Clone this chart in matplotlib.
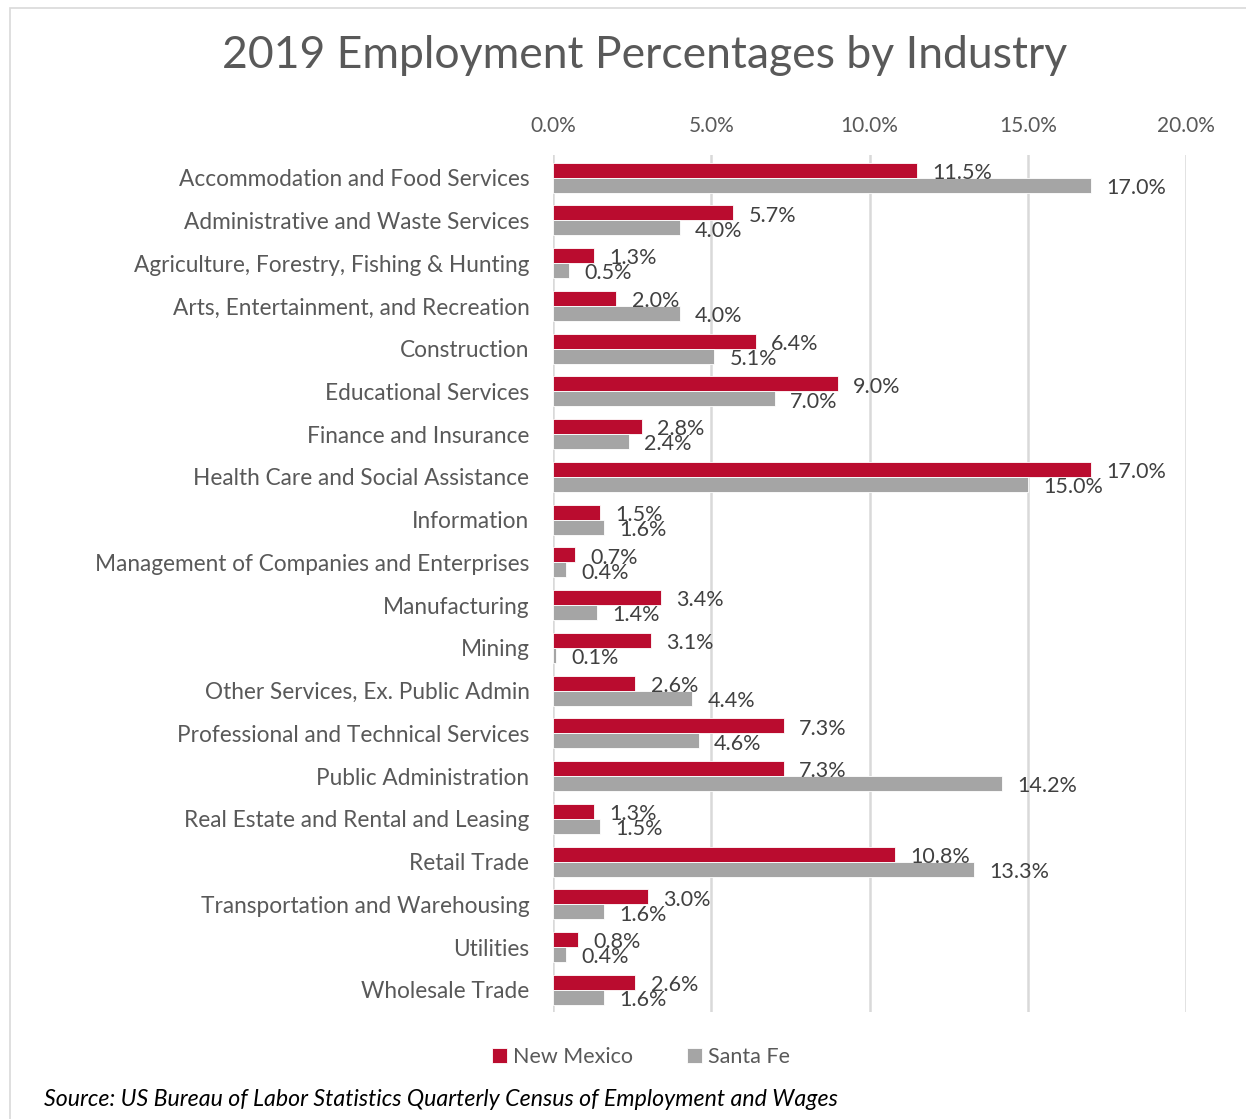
import matplotlib.pyplot as plt
from matplotlib.patches import Rectangle

plt.rcParams['font.family'] = ['Lato', 'DejaVu Sans']

industries = [
    "Accommodation and Food Services",
    "Administrative and Waste Services",
    "Agriculture, Forestry, Fishing & Hunting",
    "Arts, Entertainment, and Recreation",
    "Construction",
    "Educational Services",
    "Finance and Insurance",
    "Health Care and Social Assistance",
    "Information",
    "Management of Companies and Enterprises",
    "Manufacturing",
    "Mining",
    "Other Services, Ex. Public Admin",
    "Professional and Technical Services",
    "Public Administration",
    "Real Estate and Rental and Leasing",
    "Retail Trade",
    "Transportation and Warehousing",
    "Utilities",
    "Wholesale Trade",
]
new_mexico = [11.5, 5.7, 1.3, 2.0, 6.4, 9.0, 2.8, 17.0, 1.5, 0.7,
              3.4, 3.1, 2.6, 7.3, 7.3, 1.3, 10.8, 3.0, 0.8, 2.6]
santa_fe = [17.0, 4.0, 0.5, 4.0, 5.1, 7.0, 2.4, 15.0, 1.6, 0.4,
            1.4, 0.1, 4.4, 4.6, 14.2, 1.5, 13.3, 1.6, 0.4, 1.6]
x_ticks = [0, 5, 10, 15, 20]

red = '#BA0C2F'
grey = '#A5A5A5'
text_grey = '#595959'
label_col = '#404040'

fig = plt.figure(figsize=(12.46, 11.19), dpi=100)
ax = fig.add_axes([553 / 1246, 1 - 1012 / 1119, 633 / 1246, 857 / 1119])

# light frame round the chart area
fig.patches.append(Rectangle((10 / 1246, -0.01), 1.0, 1 - 8 / 1119 + 0.01,
                             transform=fig.transFigure, fill=False,
                             edgecolor='#D9D9D9', linewidth=1.2))

h = 0.35
ys = list(range(len(industries)))
ax.barh([y - h / 2 for y in ys], new_mexico, height=h, color=red,
        edgecolor='white', linewidth=0.6, label='New Mexico', zorder=3)
ax.barh([y + h / 2 for y in ys], santa_fe, height=h, color=grey,
        edgecolor='white', linewidth=0.6, label='Santa Fe', zorder=3)

for y, v in zip(ys, new_mexico):
    ax.annotate(f"{v:.1f}%", (v, y - h / 2), xytext=(11, -2),
                textcoords='offset points', ha='left', va='center',
                fontsize=15.5, color=label_col, zorder=4)
for y, v in zip(ys, santa_fe):
    ax.annotate(f"{v:.1f}%", (v, y + h / 2), xytext=(11, -2),
                textcoords='offset points', ha='left', va='center',
                fontsize=15.5, color=label_col, zorder=4)

ax.set_xlim(0, 20)
ax.set_ylim(len(industries) - 0.48, -0.53)
ax.set_xticks(x_ticks)
ax.set_xticklabels([f"{t:.1f}%" for t in x_ticks], fontsize=15, color=text_grey)
ax.xaxis.tick_top()
ax.set_yticks(ys)
ax.set_yticklabels(industries, fontsize=16.3, color=text_grey)
ax.tick_params(axis='both', length=0)
ax.tick_params(axis='x', pad=14)
ax.tick_params(axis='y', pad=17)
ax.grid(axis='x', color='#D9D9D9', linewidth=1.8, zorder=0)
for s in ax.spines.values():
    s.set_visible(False)

fig.text(645 / 1246, 1 - 55 / 1119, "2019 Employment Percentages by Industry",
         ha='center', va='center', fontsize=32, color=text_grey)

fig.legend(loc='center', bbox_to_anchor=(641 / 1246, 1 - 1057 / 1119), ncol=2,
           frameon=False, fontsize=15.5, handlelength=0.7, handleheight=0.7,
           handletextpad=0.3, columnspacing=2.5, labelcolor=text_grey)

fig.text(44 / 1246, 1 - 1100 / 1119,
         "Source: US Bureau of Labor Statistics Quarterly Census of Employment and Wages",
         ha='left', va='center', fontsize=16.7, style='italic', color='black')

fig.savefig('out.png', dpi=100)
